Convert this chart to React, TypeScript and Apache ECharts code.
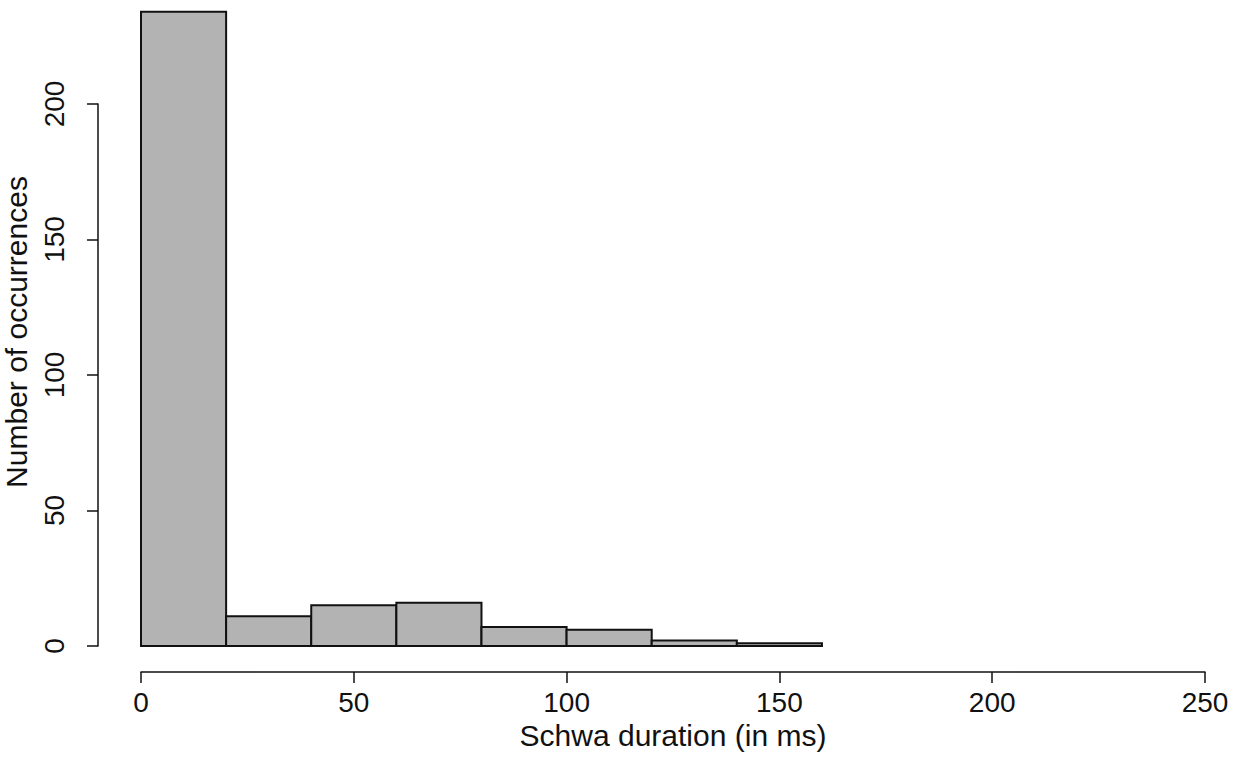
import { useEffect, useRef } from 'react';
import * as echarts from 'echarts';

// histogram bins (ms) and counts
const binEdges = [0, 20, 40, 60, 80, 100, 120, 140, 160];
const counts = [234, 11, 15, 16, 7, 6, 2, 1];
const xTicks = [0, 50, 100, 150, 200, 250];
const yTicks = [0, 50, 100, 150, 200];

const FONT = '"Liberation Sans", Arial, Helvetica, sans-serif';

const App = () => {
  const chartDom = useRef<HTMLDivElement | null>(null);

  useEffect(() => {
    if (!chartDom.current) return;
    const myChart = echarts.init(chartDom.current, null, { renderer: 'svg' });

    const bins = counts.map((c, i) => [binEdges[i], binEdges[i + 1], c]);

    const option = {
      animation: false,
      backgroundColor: '#ffffff',
      textStyle: { fontFamily: FONT },
      grid: { left: 141, right: 35, top: 104, bottom: 132 },
      xAxis: {
        type: 'value',
        min: xTicks[0],
        max: xTicks[xTicks.length - 1],
        interval: 50,
        offset: 26,
        name: 'Schwa duration (in ms)',
        nameLocation: 'middle',
        nameGap: 48,
        nameTextStyle: { fontSize: 30, color: '#111', fontFamily: FONT },
        axisLine: { show: true, onZero: false, lineStyle: { color: '#111', width: 1.5 } },
        axisTick: { show: true, length: 11, lineStyle: { color: '#111', width: 1.5 } },
        axisLabel: { fontSize: 28, color: '#111', margin: 16, fontFamily: FONT },
        splitLine: { show: false },
      },
      yAxis: {
        type: 'value',
        min: yTicks[0],
        max: yTicks[yTicks.length - 1],
        interval: 50,
        offset: 43,
        axisLine: { show: true, onZero: false, lineStyle: { color: '#111', width: 1.5 } },
        axisTick: { show: true, length: 11, lineStyle: { color: '#111', width: 1.5 } },
        axisLabel: { fontSize: 28, color: '#111', margin: 30, rotate: 90, fontFamily: FONT },
        splitLine: { show: false },
      },
      graphic: [
        {
          type: 'text',
          x: 16,
          y: 332,
          rotation: Math.PI / 2,
          style: {
            text: 'Number of occurrences',
            fontSize: 30,
            fontFamily: FONT,
            fill: '#111',
            align: 'center',
            verticalAlign: 'middle',
          },
        },
      ],
      series: [
        {
          type: 'custom',
          clip: false,
          data: bins,
          renderItem: (_params: any, api: any) => {
            const topLeft = api.coord([api.value(0), api.value(2)]);
            const bottomRight = api.coord([api.value(1), 0]);
            return {
              type: 'rect',
              shape: {
                x: topLeft[0],
                y: topLeft[1],
                width: bottomRight[0] - topLeft[0],
                height: bottomRight[1] - topLeft[1],
              },
              style: { fill: '#b3b3b3', stroke: '#111', lineWidth: 2 },
            };
          },
        },
      ],
    };

    myChart.setOption(option);

    return () => {
      myChart.dispose();
    };
  }, []);

  return (
    <div
      ref={chartDom}
      style={{ position: 'absolute', left: 0, top: 0, width: 1240, height: 778 }}
    />
  );
};

export default App;
